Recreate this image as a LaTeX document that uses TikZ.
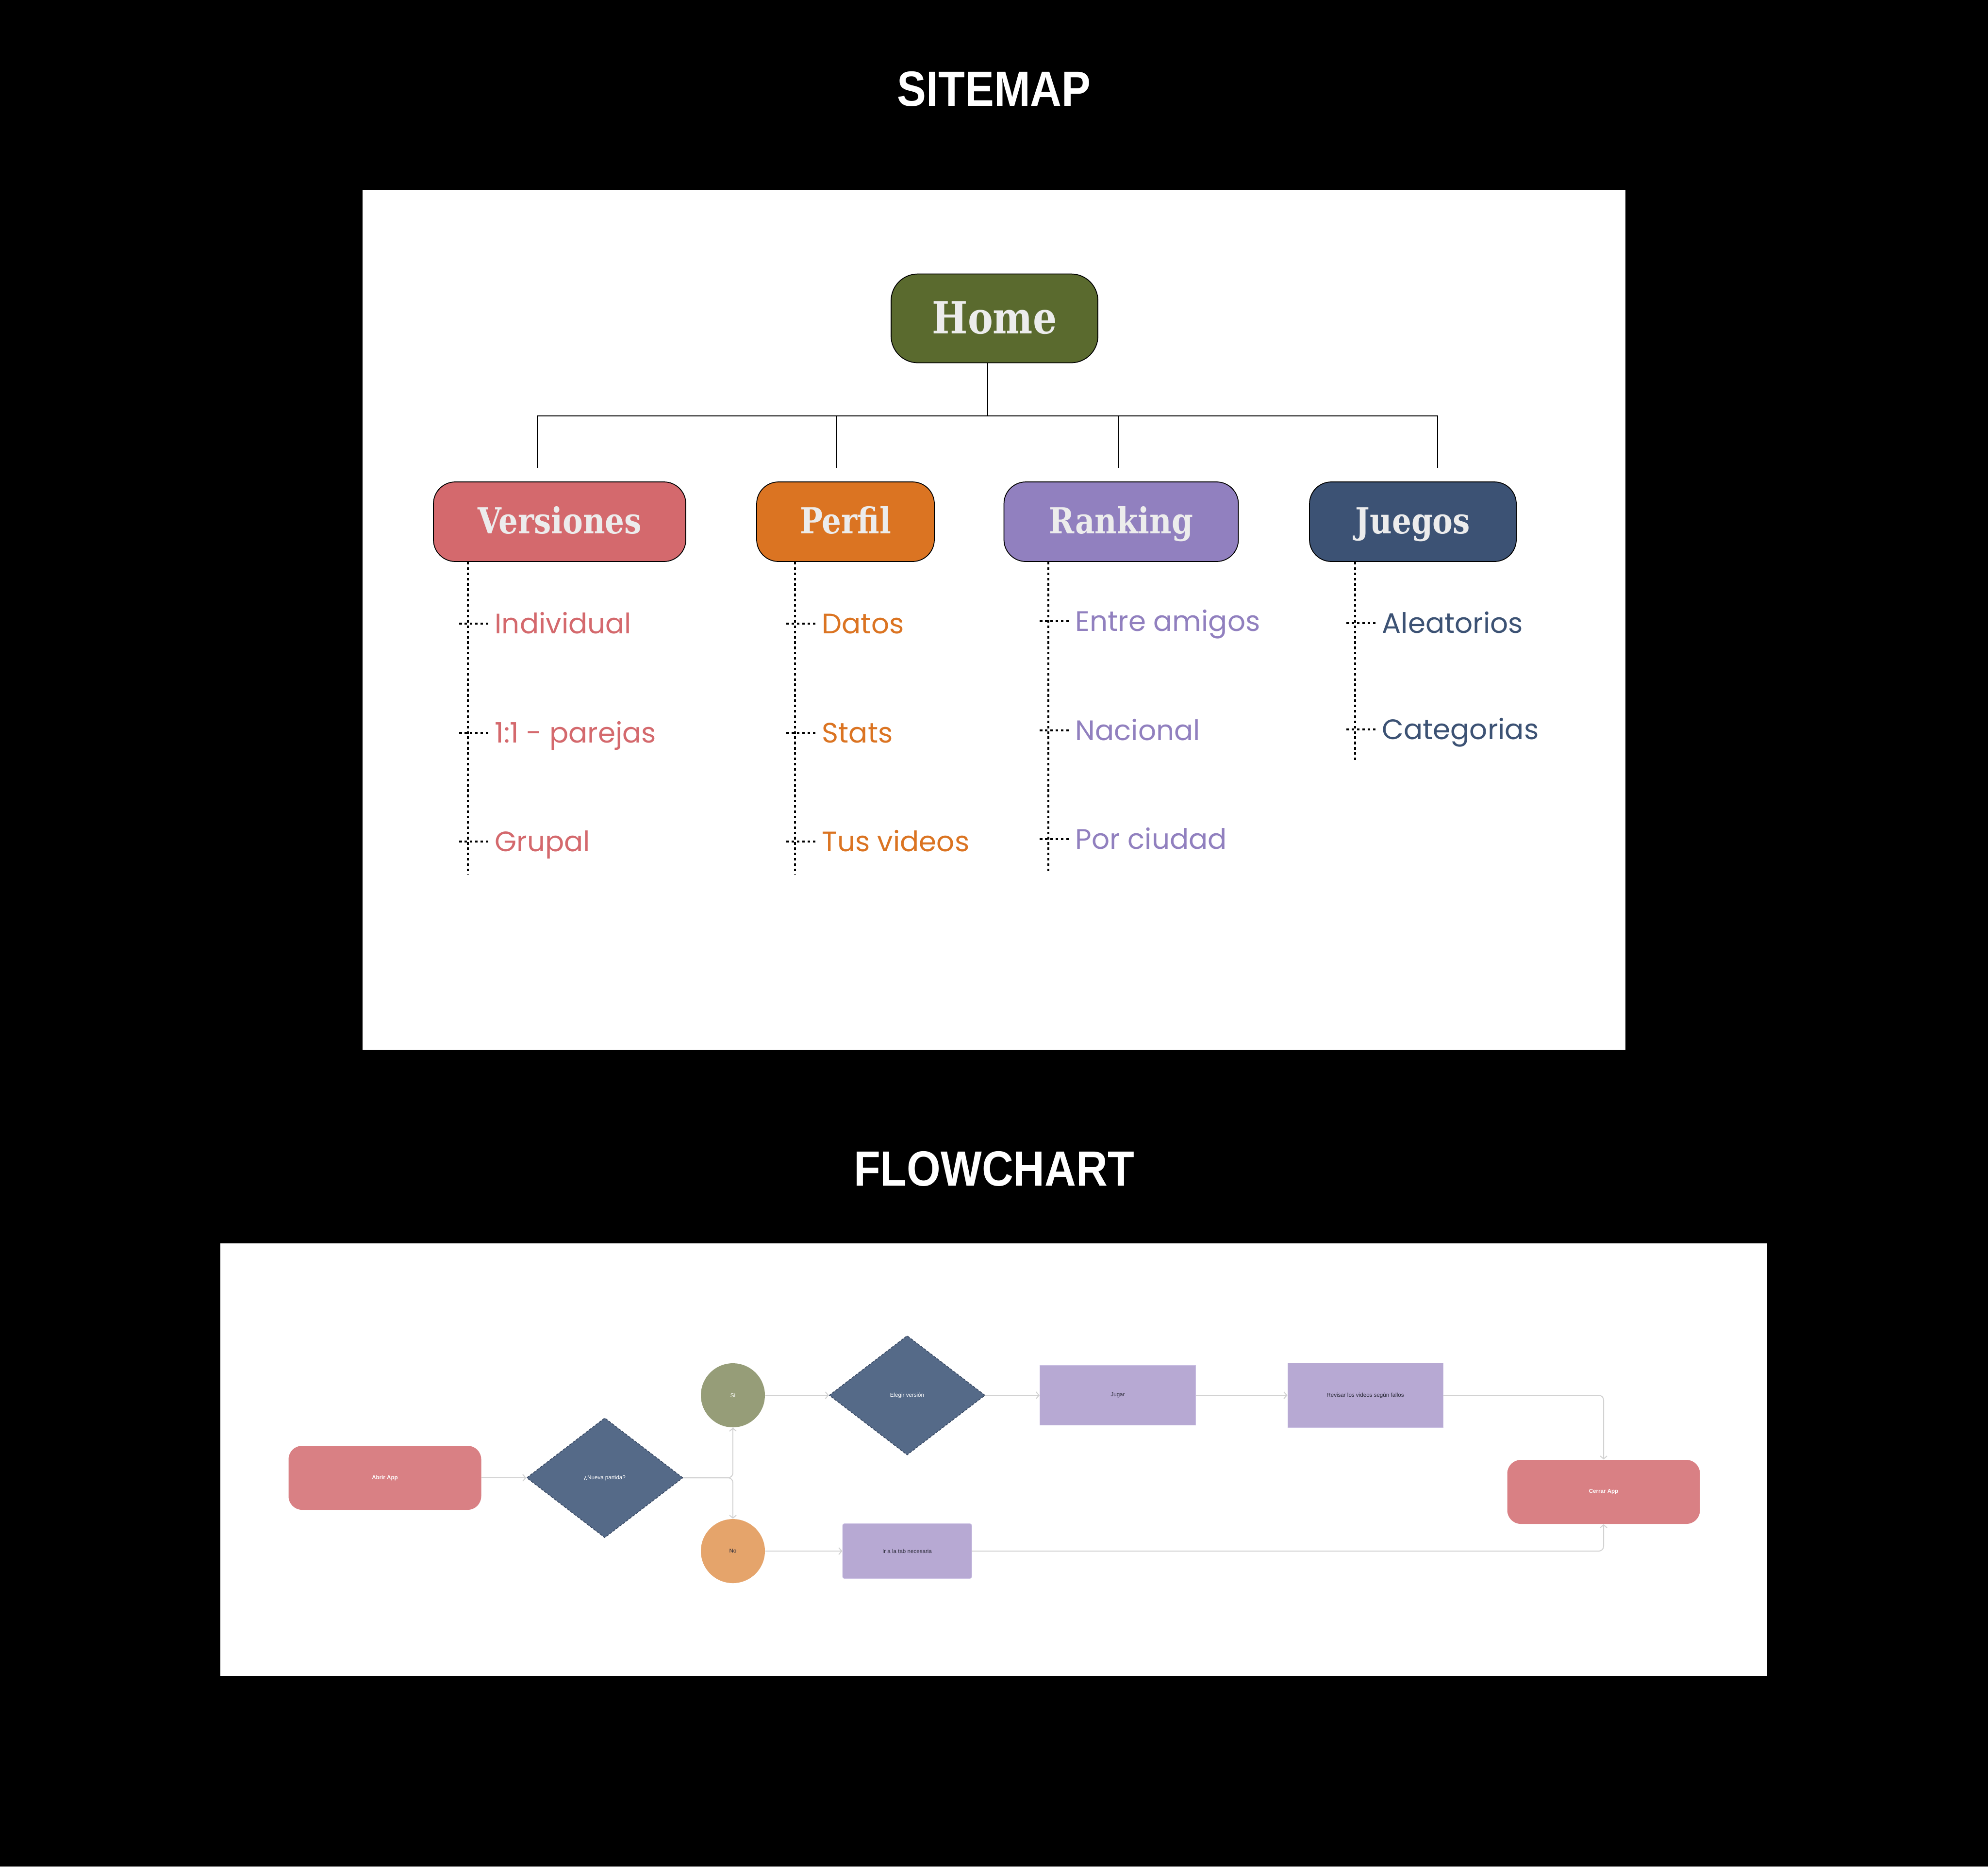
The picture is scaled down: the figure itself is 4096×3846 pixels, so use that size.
\documentclass[tikz,border=0pt]{standalone}
\usepackage{fontspec}
\setmainfont{Liberation Sans}
\newfontfamily\headfont{Liberation Sans}[FakeStretch=0.88]
\newfontfamily\boxfont{DejaVu Serif}[FakeStretch=0.85]
\newfontfamily\itemfont{Poppins}
\usetikzlibrary{arrows.meta,positioning,calc,shapes.geometric}
\definecolor{homegreen}{HTML}{5A6A2E}
\definecolor{verred}{HTML}{D4696D}
\definecolor{perforange}{HTML}{DB7422}
\definecolor{rankpurple}{HTML}{9180BF}
\definecolor{juegnavy}{HTML}{3C5274}
\definecolor{labelgray}{HTML}{ECECEC}
\definecolor{flowpink}{HTML}{D98084}
\definecolor{flownavy}{HTML}{556A88}
\definecolor{navyedge}{HTML}{34445E}
\definecolor{siolive}{HTML}{969D78}
\definecolor{noorange}{HTML}{E5A46B}
\definecolor{lilac}{HTML}{B7A9D3}
\definecolor{lilacedge}{HTML}{C9BEE2}
\definecolor{linegray}{HTML}{D2D2D2}
\definecolor{inkdark}{HTML}{2A2A38}

\begin{document}
\begin{tikzpicture}[
  x=0.1mm,y=-0.1mm,
  heading/.style={text=white,font=\headfont\bfseries\fontsize{29pt}{32pt}\selectfont},
  catbox/.style={draw=black,line width=0.5pt,rounded corners=4.5mm,minimum height=16.4mm,text=labelgray,text height=14pt,text depth=0pt,font=\boxfont\bfseries\fontsize{21pt}{24pt}\selectfont},
  sub/.style={anchor=west,inner sep=0pt,text height=11.5pt,text depth=0pt,font=\itemfont\fontsize{16.5pt}{19pt}\selectfont},
  tree/.style={line width=0.7pt,draw=black},
  dotline/.style={line width=1pt,dash pattern=on 1.5pt off 1.6pt},
  term/.style={rounded corners=2.8mm,minimum width=39.7mm,minimum height=13.2mm,fill=flowpink,text=white,font=\bfseries\fontsize{3.3pt}{4pt}\selectfont},
  choice/.style={diamond,fill=flownavy,draw=navyedge,dash pattern=on 0.5mm off 0.35mm,line width=0.15mm,inner sep=0pt,minimum width=32.2mm,minimum height=24.7mm,text=white,font=\fontsize{3.3pt}{4pt}\selectfont},
  answer/.style={circle,minimum size=13.2mm,inner sep=0pt,font=\fontsize{3.3pt}{4pt}\selectfont},
  task/.style={fill=lilac,draw=lilacedge,line width=0.3pt,text=inkdark,font=\fontsize{3.3pt}{4pt}\selectfont},
  flow/.style={draw=linegray,line width=0.55pt,rounded corners=1mm,-{Straight Barb[length=0.6mm,width=1.4mm]}}
]
% background and panels
\fill[black] (0,0) rectangle (4096,3846);
\fill[white] (747,392) rectangle (3349,2163);
\fill[white] (454,2562) rectangle (3641,3453);
\node[heading] (sitemap) at (2048,183) {SITEMAP};
\node[heading] (flowchart) at (2048,2408) {FLOWCHART};

% sitemap
\node[catbox,fill=homegreen,minimum width=42.6mm,minimum height=18.3mm,rounded corners=5.5mm,text height=18pt,font=\boxfont\bfseries\fontsize{26pt}{30pt}\selectfont] (home) at (2049,656) {Home};
\node[catbox,fill=verred,minimum width=52mm] (versiones) at (1153,1075) {Versiones};
\node[catbox,fill=perforange,minimum width=36.6mm] (perfil) at (1742,1075) {Perfil};
\node[catbox,fill=rankpurple,minimum width=48.3mm] (ranking) at (2310,1075) {Ranking};
\node[catbox,fill=juegnavy,minimum width=42.6mm] (juegos) at (2911,1075) {Juegos};

\coordinate (bus) at (2035,857);
\coordinate (d1) at (1107,964);
\coordinate (d2) at (1724,964);
\coordinate (d3) at (2304,964);
\coordinate (d4) at (2962,964);
\draw[tree] (home.south -| bus) -- (bus);
\draw[tree] (d1) -- (d1 |- bus) -- (d4 |- bus) -- (d4);
\draw[tree] (d2 |- bus) -- (d2);
\draw[tree] (d3 |- bus) -- (d3);

\coordinate (v1) at (964,1802);
\coordinate (v2) at (1638,1802);
\coordinate (v3) at (2160,1800);
\coordinate (v4) at (2792,1568);
\draw[dotline] (versiones.south -| v1) -- (v1);
\draw[dotline] (perfil.south -| v2) -- (v2);
\draw[dotline] (ranking.south -| v3) -- (v3);
\draw[dotline] (juegos.south -| v4) -- (v4);

\node[sub,text=verred] (individual) at (1019,1285) {Individual};
\node[sub,text=verred] (parejas) at (1019,1510) {1:1 - parejas};
\node[sub,text=verred] (grupal) at (1019,1734) {Grupal};
\node[sub,text=perforange] (datos) at (1693,1285) {Datos};
\node[sub,text=perforange] (stats) at (1693,1510) {Stats};
\node[sub,text=perforange] (videos) at (1693,1734) {Tus videos};
\node[sub,text=rankpurple] (amigos) at (2215,1280) {Entre amigos};
\node[sub,text=rankpurple] (nacional) at (2215,1505) {Nacional};
\node[sub,text=rankpurple] (ciudad) at (2215,1729) {Por ciudad};
\node[sub,text=juegnavy] (aleatorios) at (2847,1284) {Aleatorios};
\node[sub,text=juegnavy] (categorias) at (2847,1503) {Categorias};

\draw[dotline] ($(individual.west)+(-1.3mm,0)$) -- ($(individual.west -| v1)+(-2.3mm,0)$);
\draw[dotline] ($(parejas.west)+(-1.3mm,0)$) -- ($(parejas.west -| v1)+(-2.3mm,0)$);
\draw[dotline] ($(grupal.west)+(-1.3mm,0)$) -- ($(grupal.west -| v1)+(-2.3mm,0)$);
\draw[dotline] ($(datos.west)+(-1.3mm,0)$) -- ($(datos.west -| v2)+(-2.3mm,0)$);
\draw[dotline] ($(stats.west)+(-1.3mm,0)$) -- ($(stats.west -| v2)+(-2.3mm,0)$);
\draw[dotline] ($(videos.west)+(-1.3mm,0)$) -- ($(videos.west -| v2)+(-2.3mm,0)$);
\draw[dotline] ($(amigos.west)+(-1.3mm,0)$) -- ($(amigos.west -| v3)+(-2.3mm,0)$);
\draw[dotline] ($(nacional.west)+(-1.3mm,0)$) -- ($(nacional.west -| v3)+(-2.3mm,0)$);
\draw[dotline] ($(ciudad.west)+(-1.3mm,0)$) -- ($(ciudad.west -| v3)+(-2.3mm,0)$);
\draw[dotline] ($(aleatorios.west)+(-1.3mm,0)$) -- ($(aleatorios.west -| v4)+(-2.3mm,0)$);
\draw[dotline] ($(categorias.west)+(-1.3mm,0)$) -- ($(categorias.west -| v4)+(-2.3mm,0)$);

% flowchart
\node[term] (abrir) at (793,3045) {Abrir App};
\node[choice] (nueva) at (1246,3045) {¿Nueva partida?};
\node[answer,fill=siolive,text=white] (si) at (1510,2875) {Si};
\node[answer,fill=noorange,text=inkdark] (no) at (1510,3196) {No};
\node[choice,minimum width=32.1mm,minimum height=24.6mm] (elegir) at (1869,2875) {Elegir versión};
\node[task,minimum width=32.1mm,minimum height=12.3mm] (jugar) at (2303,2875) {Jugar};
\node[task,minimum width=32mm,minimum height=13.3mm] (revisar) at (2813,2875) {Revisar los videos según fallos};
\node[task,rounded corners=0.4mm,minimum width=26.6mm,minimum height=11.3mm] (tab) at (1869,3196) {Ir a la tab necesaria};
\node[term] (cerrar) at (3304,3074) {Cerrar App};

\draw[flow] (abrir) -- (nueva);
\draw[flow] (nueva.east) -| (si.south);
\draw[flow] (nueva.east) -| (no.north);
\draw[flow] (si) -- (elegir);
\draw[flow] (elegir) -- (jugar);
\draw[flow] (jugar) -- (revisar);
\draw[flow] (revisar.east) -| (cerrar.north);
\draw[flow] (no) -- (tab);
\draw[flow] (tab.east) -| (cerrar.south);
\end{tikzpicture}
\end{document}
